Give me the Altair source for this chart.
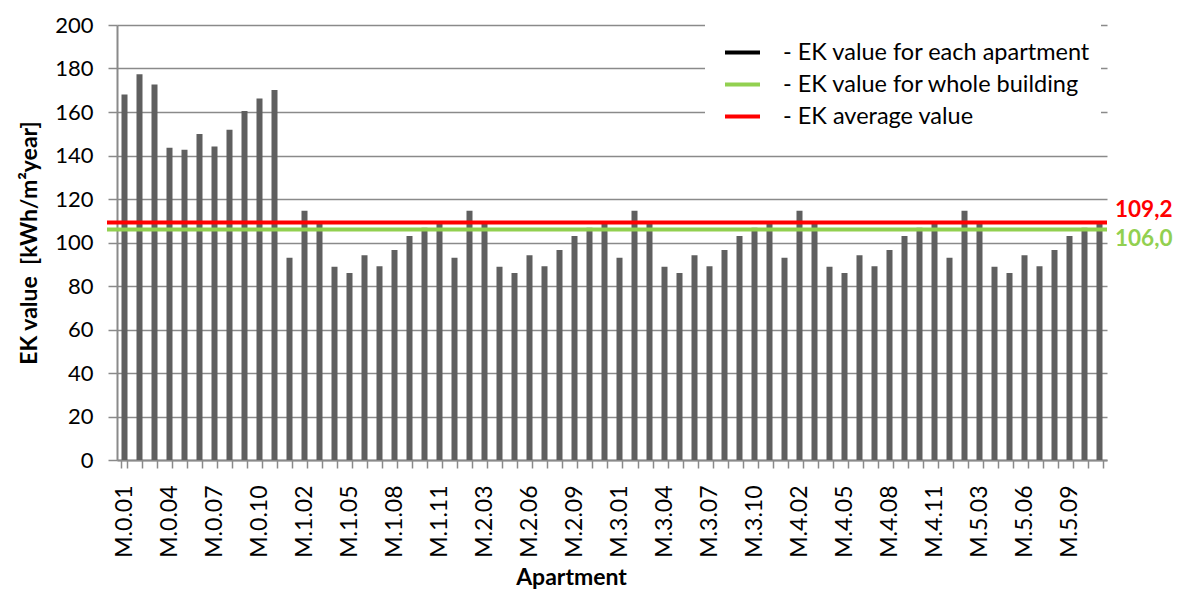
import json
import altair as alt
import pandas as pd

# ---------------- data ----------------
floor0_apts = ["M.0.01", "M.0.02", "M.0.03", "M.0.04", "M.0.05", "M.0.06",
               "M.0.07", "M.0.08", "M.0.09", "M.0.10", "M.0.11"]
floor0_ek = [168.0, 177.3, 172.7, 143.6, 142.7, 149.9, 144.1, 151.8, 160.5, 166.2, 170.1]

floor1_apts = ["M.1.01", "M.1.02", "M.1.03", "M.1.04", "M.1.05", "M.1.06",
               "M.1.07", "M.1.08", "M.1.09", "M.1.10", "M.1.11"]
floor1_ek = [93.0, 114.6, 109.1, 88.8, 86.0, 94.1, 89.1, 96.6, 103.0, 106.8, 108.6]

floor2_apts = ["M.2.01", "M.2.02", "M.2.03", "M.2.04", "M.2.05", "M.2.06",
               "M.2.07", "M.2.08", "M.2.09", "M.2.10", "M.2.11"]
floor2_ek = [93.0, 114.6, 109.1, 88.8, 86.0, 94.1, 89.1, 96.6, 103.0, 106.8, 108.6]

floor3_apts = ["M.3.01", "M.3.02", "M.3.03", "M.3.04", "M.3.05", "M.3.06",
               "M.3.07", "M.3.08", "M.3.09", "M.3.10", "M.3.11"]
floor3_ek = [93.0, 114.6, 109.1, 88.8, 86.0, 94.1, 89.1, 96.6, 103.0, 106.8, 108.6]

floor4_apts = ["M.4.01", "M.4.02", "M.4.03", "M.4.04", "M.4.05", "M.4.06",
               "M.4.07", "M.4.08", "M.4.09", "M.4.10", "M.4.11"]
floor4_ek = [93.0, 114.6, 109.1, 88.8, 86.0, 94.1, 89.1, 96.6, 103.0, 106.8, 108.6]

floor5_apts = ["M.5.01", "M.5.02", "M.5.03", "M.5.04", "M.5.05", "M.5.06",
               "M.5.07", "M.5.08", "M.5.09", "M.5.10", "M.5.11"]
floor5_ek = [93.0, 114.6, 109.1, 88.8, 86.0, 94.1, 89.1, 96.6, 103.0, 106.8, 108.6]

shown_labels = ["M.0.01", "M.0.04", "M.0.07", "M.0.10", "M.1.02", "M.1.05",
                "M.1.08", "M.1.11", "M.2.03", "M.2.06", "M.2.09", "M.3.01",
                "M.3.04", "M.3.07", "M.3.10", "M.4.02", "M.4.05", "M.4.08",
                "M.4.11", "M.5.03", "M.5.06", "M.5.09"]

y_ticks = [0, 20, 40, 60, 80, 100, 120, 140, 160, 180, 200]

legend_names = ["- EK value for each apartment",
                "- EK value for whole building",
                "- EK average value"]
legend_colors = ["#000000", "#92D050", "#FF0000"]

building_value = 106.0
building_label = "106,0"
average_value = 109.2
average_label = "109,2"

# ---------------- tables ----------------
apartments = floor0_apts + floor1_apts + floor2_apts + floor3_apts + floor4_apts + floor5_apts
ek_values = floor0_ek + floor1_ek + floor2_ek + floor3_ek + floor4_ek + floor5_ek
bars_df = pd.DataFrame({"Apartment": apartments, "EK": ek_values})

lines_df = pd.DataFrame({
    "name": [legend_names[1], legend_names[2]],
    "value": [building_value, average_value],
})
avg_df = pd.DataFrame({"value": [average_value], "label": [average_label]})
bld_df = pd.DataFrame({"value": [building_value], "label": [building_label]})

# ---------------- chart ----------------
W, H = 990, 435
FONT = "Lato"
GRID = "#8a8a8a"

label_expr = "indexof(" + json.dumps(shown_labels) + ", datum.value) >= 0 ? datum.value : ''"

x_enc = alt.X(
    "Apartment:N",
    sort=apartments,
    scale=alt.Scale(paddingInner=0.6, paddingOuter=0.3),
    axis=alt.Axis(
        title="Apartment", titleFont=FONT, titleFontSize=23, titleFontWeight="bold",
        titleColor="black", titleX=454, titleY=124, titleAlign="center",
        titleBaseline="alphabetic",
        labelAngle=270, labelFont=FONT, labelFontSize=23, labelColor="black",
        labelPadding=17, labelExpr=label_expr, labelOverlap=False,
        tickBand="extent", tickSize=8, tickColor=GRID, tickWidth=1.5,
        domainColor=GRID, domainWidth=2, grid=False,
    ),
)
y_scale = alt.Scale(domain=[0, 200], nice=False)

bars = alt.Chart(bars_df).mark_bar(color="#5f5f5f").encode(
    x=x_enc,
    y=alt.Y(
        "EK:Q", scale=y_scale,
        axis=alt.Axis(
            title="EK value\u00a0 [kWh/m²year]", values=y_ticks,
            titleFont=FONT, titleFontSize=23, titleFontWeight="bold", titleColor="black",
            titlePadding=13,
            labelFont=FONT, labelFontSize=22, labelColor="black", labelPadding=15,
            tickSize=9, tickColor=GRID, tickWidth=1.5,
            domainColor=GRID, domainWidth=2,
            grid=True, gridColor=GRID, gridWidth=1.5,
        ),
    ),
)

rules = alt.Chart(lines_df).mark_rule(strokeWidth=4).encode(
    y=alt.Y("value:Q", scale=y_scale),
    x=alt.value(-10),
    x2=alt.value(W),
    color=alt.Color(
        "name:N",
        scale=alt.Scale(domain=legend_names, range=legend_colors),
        legend=alt.Legend(
            title=None, orient="none", legendX=588, legendY=-2,
            symbolType="stroke", symbolStrokeWidth=4, symbolSize=1225,
            labelFont=FONT, labelFontSize=23.5, labelColor="black", labelLimit=500,
            labelOffset=21, fillColor="white", padding=10, rowPadding=1,
            symbolOffset=8,
        ),
    ),
)

avg_text = alt.Chart(avg_df).mark_text(
    align="left", baseline="middle", font=FONT, fontSize=22.5, fontWeight="bold",
    color="#FF0000", dy=-12,
).encode(y=alt.Y("value:Q", scale=y_scale), x=alt.value(W + 8), text="label:N")

bld_text = alt.Chart(bld_df).mark_text(
    align="left", baseline="middle", font=FONT, fontSize=22.5, fontWeight="bold",
    color="#92D050", dy=10,
).encode(y=alt.Y("value:Q", scale=y_scale), x=alt.value(W + 8), text="label:N")

chart = alt.layer(bars, rules, avg_text, bld_text).properties(
    width=W, height=H,
    autosize=alt.AutoSizeParams(type="none"),
    padding={"left": 109, "top": 17, "right": 70, "bottom": 130},
    background="white",
).configure_view(stroke=None)

chart.save("out.html", embed_options={"renderer": "svg", "actions": False})
